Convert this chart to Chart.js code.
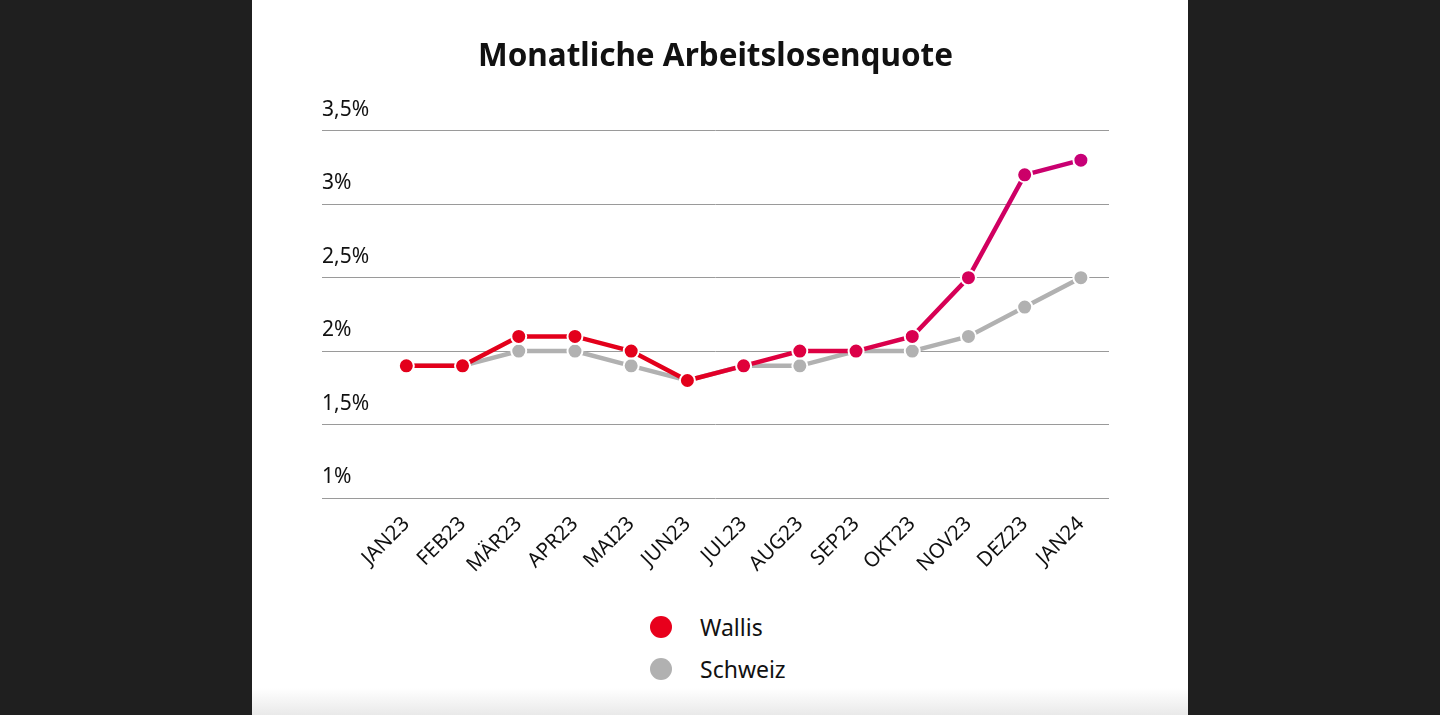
<!DOCTYPE html>
<html><head><meta charset="utf-8">
<script src="https://cdn.jsdelivr.net/npm/chart.js@4"></script>
<style>
html,body{margin:0;padding:0;width:1440px;height:715px;background:#1f1f1f;overflow:hidden;font-family:"Noto Sans",sans-serif;}
#panel{position:absolute;left:252px;top:0;width:936px;height:715px;background:linear-gradient(to bottom,#fff 0,#fff 688px,#e9e9e9 715px);}
#wrap{position:absolute;left:0;top:0;width:936px;height:600px;}
#legend{position:absolute;left:0;top:0;width:936px;}
.li{position:absolute;display:flex;align-items:center;font-size:23px;color:#111;white-space:nowrap;}
.dot{width:22px;height:22px;border-radius:50%;margin-right:28px;}
</style></head>
<body>
<div id="panel"><div id="wrap"><canvas id="c"></canvas></div><div id="legend"></div></div>
<script>
const months = ['JAN23','FEB23','MÄR23','APR23','MAI23','JUN23','JUL23','AUG23','SEP23','OKT23','NOV23','DEZ23','JAN24'];
const wallis = [1.9,1.9,2.1,2.1,2.0,1.8,1.9,2.0,2.0,2.1,2.5,3.2,3.3];
const schweiz = [1.9,1.9,2.0,2.0,1.9,1.8,1.9,1.9,2.0,2.0,2.1,2.3,2.5];
const yTicks = [1,1.5,2,2.5,3,3.5];
const titleText = 'Monatliche Arbeitslosenquote';
const seriesNames = ['Wallis','Schweiz'];

function redGrad(ctx){
  const chart = ctx.chart; const a = chart.chartArea;
  if(!a) return '#e3001b';
  const g = chart.ctx.createLinearGradient(a.left,0,a.right,0);
  g.addColorStop(0,'#e3001b');
  g.addColorStop(0.47,'#e3001b');
  g.addColorStop(0.535,'#e0003a');
  g.addColorStop(0.75,'#d9004f');
  g.addColorStop(0.82,'#d5005a');
  g.addColorStop(0.89,'#cc0068');
  g.addColorStop(0.97,'#c70078');
  g.addColorStop(1,'#c5007c');
  return g;
}
const FONT = '"Noto Sans", sans-serif';
const chart = new Chart(document.getElementById('c'), {
  type:'line',
  data:{
    datasets:[
      {label:seriesNames[0], data:wallis.map((v,i)=>({x:i,y:v})), borderColor:redGrad, backgroundColor:redGrad,
       pointBackgroundColor:redGrad, pointBorderColor:'#fff', pointBorderWidth:2, pointRadius:7.5, pointHoverRadius:7.5,
       borderWidth:4.5, order:0, tension:0, legendColor:'#e8001c'},
      {label:seriesNames[1], data:schweiz.map((v,i)=>({x:i,y:v})), borderColor:'#b1b1b1', backgroundColor:'#b1b1b1',
       pointBackgroundColor:'#b1b1b1', pointBorderColor:'#fff', pointBorderWidth:2, pointRadius:7.5, pointHoverRadius:7.5,
       borderWidth:4.5, order:1, tension:0, legendColor:'#b1b1b1'}
    ]
  },
  options:{
    responsive:true, maintainAspectRatio:false, animation:false,
    layout:{padding:{left:70,right:79,top:0,bottom:12}},
    plugins:{
      legend:{display:false}, tooltip:{enabled:false},
      title:{display:true,text:titleText,color:'#111',font:{family:FONT,size:31.5,weight:'bold'},padding:{top:38,bottom:55}}
    },
    scales:{
      x:{type:'linear',min:-1.5,max:12.5,
        afterBuildTicks:s=>{s.ticks = months.map((_,i)=>({value:i}));},
        afterFit:s=>{s.height=90;},
        grid:{display:false,drawTicks:false}, border:{display:false},
        ticks:{autoSkip:false,maxRotation:45,minRotation:45,padding:14,color:'#111',font:{family:FONT,size:20.5},
          callback:v=>months[v]}},
      y:{min:1,max:3.5,
        afterBuildTicks:s=>{s.ticks = yTicks.map(v=>({value:v}));},
        afterFit:s=>{s.width=0;},
        grid:{color:'#9a9a9a',lineWidth:1,drawTicks:false}, border:{display:false},
        ticks:{mirror:true,padding:0,labelOffset:-21,color:'#111',font:{family:FONT,size:21},
          callback:v=>String(v).replace('.',',')+'%'}}
    }
  }
});
const leg = document.getElementById('legend');
chart.data.datasets.forEach((d,i)=>{
  const el = document.createElement('div'); el.className='li';
  el.style.left = (661-252-11)+'px'; el.style.top = (627+42*i-15)+'px'; el.style.height='30px';
  const dot = document.createElement('span'); dot.className='dot'; dot.style.background=d.legendColor;
  const t = document.createElement('span'); t.textContent = d.label;
  el.appendChild(dot); el.appendChild(t); leg.appendChild(el);
});
</script>
</body></html>
